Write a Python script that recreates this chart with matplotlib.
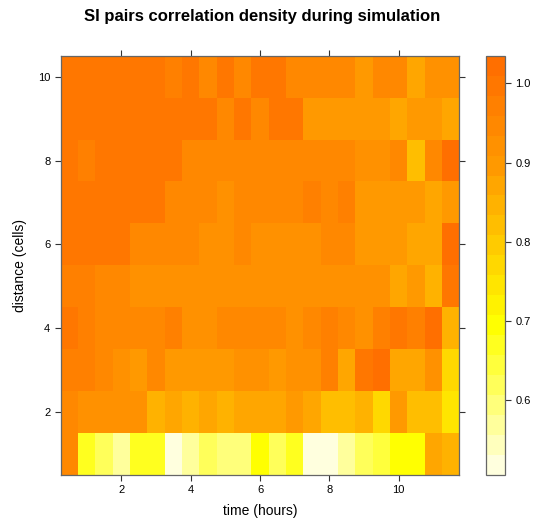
import numpy as np
import matplotlib
matplotlib.use("Agg")
import matplotlib.pyplot as plt
from matplotlib.colors import LinearSegmentedColormap, ListedColormap, BoundaryNorm

plt.rcParams['font.family'] = ['Liberation Sans', 'DejaVu Sans']

# time (hours) of each column, distance (cells) of each row
times = [0.5, 1.0, 1.5, 2.0, 2.5, 3.0, 3.5, 4.0, 4.5, 5.0, 5.5, 6.0,
         6.5, 7.0, 7.5, 8.0, 8.5, 9.0, 9.5, 10.0, 10.5, 11.0, 11.5]
distances = [1, 2, 3, 4, 5, 6, 7, 8, 9, 10]

# correlation density per distance row (values along time)
d1 = [0.948, 0.668, 0.614, 0.572, 0.668, 0.668, 0.505, 0.563, 0.614, 0.586, 0.586, 0.690,
      0.627, 0.680, 0.510, 0.510, 0.572, 0.627, 0.641, 0.690, 0.690, 0.867, 0.850]
d2 = [0.954, 0.918, 0.918, 0.912, 0.912, 0.858, 0.883, 0.842, 0.883, 0.850, 0.883, 0.862,
      0.879, 0.906, 0.875, 0.833, 0.833, 0.850, 0.762, 0.900, 0.808, 0.808, 0.747]
d3 = [0.983, 0.960, 0.936, 0.924, 0.892, 0.954, 0.892, 0.892, 0.892, 0.892, 0.918, 0.918,
      0.896, 0.912, 0.912, 0.966, 0.862, 0.989, 1.020, 0.883, 0.867, 0.912, 0.762]
d4 = [0.989, 0.977, 0.948, 0.942, 0.942, 0.942, 0.977, 0.918, 0.918, 0.942, 0.942, 0.942,
      0.936, 0.924, 0.936, 0.966, 0.942, 0.924, 0.971, 0.995, 0.983, 1.035, 0.850]
d5 = [0.983, 0.983, 0.948, 0.948, 0.930, 0.930, 0.930, 0.930, 0.930, 0.930, 0.930, 0.930,
      0.930, 0.918, 0.930, 0.930, 0.930, 0.912, 0.930, 0.867, 0.892, 0.850, 1.001]
d6 = [0.990, 0.990, 0.990, 0.990, 0.942, 0.942, 0.942, 0.942, 0.924, 0.924, 0.942, 0.918,
      0.924, 0.924, 0.924, 0.936, 0.936, 0.906, 0.887, 0.906, 0.867, 0.867, 1.013]
d7 = [0.990, 0.990, 0.990, 0.990, 0.990, 0.990, 0.954, 0.954, 0.954, 0.924, 0.954, 0.936,
      0.942, 0.942, 0.977, 0.936, 0.960, 0.906, 0.906, 0.906, 0.906, 0.883, 0.900]
d8 = [0.990, 0.966, 0.990, 0.990, 0.990, 0.990, 0.990, 0.954, 0.954, 0.954, 0.954, 0.954,
      0.948, 0.948, 0.948, 0.948, 0.948, 0.924, 0.924, 0.940, 0.833, 0.948, 1.020]
d9 = [0.990, 0.990, 0.990, 0.990, 0.990, 0.990, 0.990, 0.990, 0.990, 0.948, 0.990, 0.948,
      0.989, 0.989, 0.908, 0.908, 0.908, 0.908, 0.896, 0.873, 0.906, 0.892, 0.873]
d10 = [0.995, 0.995, 0.995, 0.995, 0.995, 0.995, 0.962, 0.995, 0.950, 0.995, 0.958, 0.990,
       0.990, 0.948, 0.948, 0.948, 0.948, 0.906, 0.936, 0.936, 0.883, 0.912, 0.924]

colorbar_ticks = [0.6, 0.7, 0.8, 0.9, 1.0]

z = np.array([d1, d2, d3, d4, d5, d6, d7, d8, d9, d10])

# palette (light yellow -> yellow -> dark orange)
anchor_vals = [0.504, 0.60, 0.695, 0.80, 0.90, 1.037]
anchor_cols = ['#FFFFEE', '#FFFF70', '#FFFF00', '#FFC800', '#FF9800', '#FF6A00']
lo, hi = z.min(), z.max()
pos = [(v - anchor_vals[0]) / (anchor_vals[-1] - anchor_vals[0]) for v in anchor_vals]
base = LinearSegmentedColormap.from_list('heatish', list(zip(pos, anchor_cols)))
ncut = 21
bounds = np.linspace(lo, hi, ncut + 1)
mids = (bounds[:-1] + bounds[1:]) / 2
cmap = ListedColormap([base((m - anchor_vals[0]) / (anchor_vals[-1] - anchor_vals[0])) for m in mids])
norm = BoundaryNorm(bounds, cmap.N)

W, H = 534, 527
fig = plt.figure(figsize=(W / 100, H / 100), dpi=100)
ax = fig.add_axes([60.7 / W, 1 - 475 / H, 398.6 / W, 419.3 / H])
cax = fig.add_axes([486 / W, 1 - 475 / H, 19 / W, 419.3 / H])

ax.pcolormesh(times, distances, z, cmap=cmap, norm=norm, shading='nearest')
ax.set_xlim(0.25, 11.75)
ax.set_ylim(0.5, 10.5)
ax.set_xticks([2, 4, 6, 8, 10])
ax.set_yticks([2, 4, 6, 8, 10])
ax.tick_params(direction='out', length=4, width=0.8, colors='#333333',
               labelsize=8, top=True, right=True, labeltop=False, labelright=False,
               labelcolor='black')
for s in ax.spines.values():
    s.set_color('#666666')
    s.set_linewidth(0.9)
ax.set_xlabel('time (hours)', fontsize=10, labelpad=6)
ax.set_ylabel('distance (cells)', fontsize=10, labelpad=8)

sm = matplotlib.cm.ScalarMappable(norm=norm, cmap=cmap)
cb = fig.colorbar(sm, cax=cax, boundaries=bounds, ticks=colorbar_ticks)
cb.ax.minorticks_off()
cb.ax.set_yticks(colorbar_ticks)
cb.ax.set_yticklabels(['%.1f' % t for t in colorbar_ticks])
cb.ax.tick_params(which='both', direction='out', length=4, width=0.8, labelsize=8,
                  colors='#333333', labelcolor='black')
cb.ax.tick_params(which='minor', length=0)
cb.outline.set_edgecolor('#666666')
cb.outline.set_linewidth(0.9)

fig.text(262.5 / W, 1 - 17 / H, 'SI pairs correlation density during simulation',
         ha='center', va='center', fontsize=12, fontweight='bold')

fig.savefig('out.png', dpi=100)
